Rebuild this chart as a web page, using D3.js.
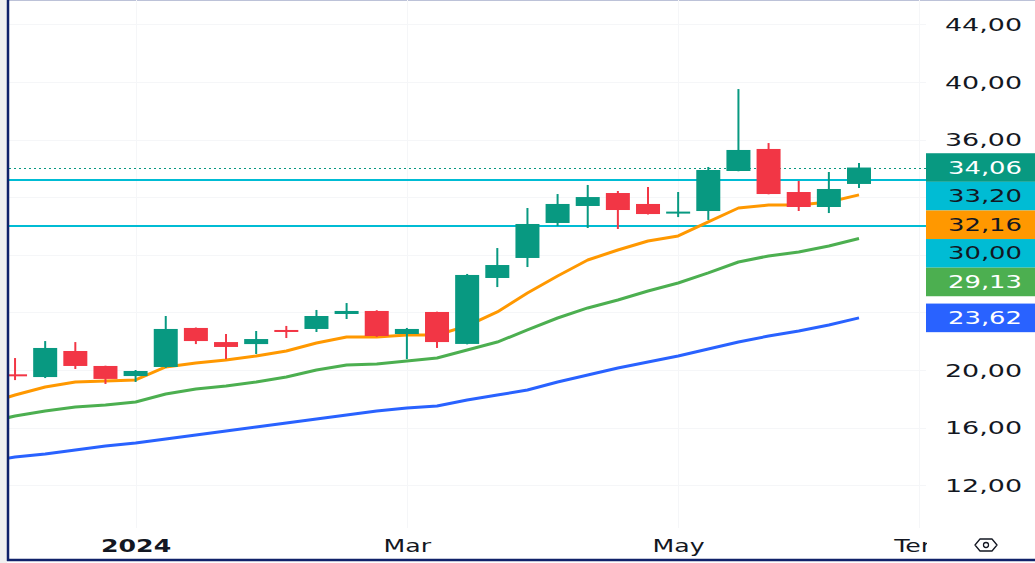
<!DOCTYPE html>
<html>
  <meta charset="utf-8">
  <head>
    <title>Weekly candles</title>
  </head>
  <style>
    body { margin: 0; background: #fff; }
    svg { display: block; font-family: "DejaVu Sans", sans-serif; }
    .grid line { stroke: #f5f6f8; stroke-width: 1; }
    .axis text { fill: #131722; font-family: "DejaVu Sans", sans-serif; }
  </style>
  <script src="https://d3js.org/d3.v7.min.js"></script>
  <body>
    <svg width="1035" height="563"></svg>

    <script>
      // weekly bars, first week only feeds the averages (off the left edge)
      var weeks = ["2023-11-27", "2023-12-04", "2023-12-11", "2023-12-18", "2023-12-25",
                   "2024-01-01", "2024-01-08", "2024-01-15", "2024-01-22", "2024-01-29",
                   "2024-02-05", "2024-02-12", "2024-02-19", "2024-02-26", "2024-03-04",
                   "2024-03-11", "2024-03-18", "2024-03-25", "2024-04-01", "2024-04-08",
                   "2024-04-15", "2024-04-22", "2024-04-29", "2024-05-06", "2024-05-13",
                   "2024-05-20", "2024-05-27", "2024-06-03", "2024-06-10", "2024-06-17"];

      var opens  = [null, 19.70, 19.51, 21.32, 20.28, 19.58, 20.21, 22.92, 21.94, 21.80, 22.78,
                    22.85, 23.89, 24.10, 22.50, 24.03, 21.81, 26.39, 27.78, 30.21, 31.39,
                    32.29, 31.53, 30.90, 31.04, 33.82, 35.35, 32.36, 31.32, 32.92];
      var highs  = [null, 20.83, 22.01, 21.94, 20.30, 20.00, 23.75, 22.95, 22.50, 22.71, 23.06,
                    24.17, 24.65, 24.15, 22.92, 24.05, 26.67, 28.47, 31.25, 32.22, 32.85,
                    32.43, 32.71, 32.36, 34.10, 39.51, 35.76, 33.13, 33.75, 34.38];
      var lows   = [null, 19.30, 19.44, 20.07, 19.03, 19.17, 20.15, 21.80, 20.76, 21.11, 22.22,
                    22.64, 23.54, 22.30, 20.76, 21.53, 21.78, 25.76, 27.15, 30.00, 29.86,
                    29.79, 30.80, 30.62, 30.42, 33.80, 32.20, 31.04, 30.90, 32.64];
      var closes = [null, 19.60, 21.53, 20.28, 19.38, 19.93, 22.85, 22.01, 21.60, 22.15, 22.64,
                    23.75, 24.10, 22.36, 22.85, 21.94, 26.60, 27.29, 30.14, 31.53, 32.01,
                    31.11, 30.83, 31.00, 33.89, 35.28, 32.22, 31.32, 32.57, 34.06];

      var maOrange = [17.64, 18.26, 18.82, 19.17, 19.24, 19.31, 20.21, 20.49, 20.69, 20.97,
                      21.32, 21.87, 22.29, 22.30, 22.43, 22.43, 23.06, 24.03, 25.35, 26.53,
                      27.64, 28.33, 28.96, 29.31, 30.28, 31.25, 31.46, 31.46, 31.67, 32.16];
      var maGreen  = [16.32, 16.81, 17.15, 17.43, 17.57, 17.78, 18.33, 18.68, 18.89, 19.17,
                      19.51, 20.00, 20.35, 20.42, 20.63, 20.83, 21.39, 21.94, 22.78, 23.61,
                      24.31, 24.86, 25.49, 26.04, 26.74, 27.50, 27.92, 28.19, 28.61, 29.13];
      var maBlue   = [13.61, 13.96, 14.17, 14.44, 14.72, 14.93, 15.21, 15.49, 15.76, 16.04,
                      16.32, 16.60, 16.88, 17.15, 17.36, 17.50, 17.92, 18.26, 18.61, 19.17,
                      19.65, 20.14, 20.56, 20.97, 21.46, 21.94, 22.36, 22.71, 23.13, 23.62];

      var levels = [33.20, 30.00];

      var priceTicks = [12, 16, 20, 24, 28, 32, 36, 40, 44];
      var timeTicks  = ["2024-01-01", "2024-03-04", "2024-05-06", "2024-07-01"];
      var timeLabels = ["2024", "Mar", "May", "Tem"];

      var up = "#089981", down = "#f23645", levelColor = "#00bcd4";

      var svg = d3.select("svg"),
          width = +svg.attr("width"),
          height = +svg.attr("height");

      var plotLeft = 9, plotRight = 926, plotBottom = 558;

      var parse = d3.timeParse("%Y-%m-%d");
      var dates = weeks.map(parse);

      var x = d3.scaleTime()
          .domain([dates[0], dates[dates.length - 1]])
          .range([-15.1, 859]);

      var y = d3.scaleLinear()
          .domain([10, 46])
          .range([514, -4.4]);

      var tr = d3.formatLocale({decimal: ",", thousands: ".", grouping: [3], currency: ["", ""]});
      var fmt = tr.format(".2f");

      // page frame
      svg.append("rect").attr("x", 0).attr("y", 0).attr("width", 7).attr("height", height).attr("fill", "#f0f0f0");
      svg.append("line").attr("x1", 7).attr("x2", width).attr("y1", 0.5).attr("y2", 0.5)
          .attr("stroke", "#bcc2d8").attr("stroke-width", 1);

      svg.append("clipPath").attr("id", "plot")
        .append("rect").attr("x", plotLeft).attr("y", 0)
          .attr("width", plotRight - plotLeft).attr("height", plotBottom);

      // faint grid
      var grid = svg.append("g").attr("class", "grid").attr("clip-path", "url(#plot)");
      grid.selectAll(".h").data(priceTicks).enter().append("line")
          .attr("x1", plotLeft).attr("x2", plotRight)
          .attr("y1", function(d) { return Math.round(y(d)) + 0.5; })
          .attr("y2", function(d) { return Math.round(y(d)) + 0.5; });
      grid.selectAll(".v").data(timeTicks).enter().append("line")
          .attr("y1", 0).attr("y2", plotBottom - 30)
          .attr("x1", function(d) { return Math.round(x(parse(d))) + 0.5; })
          .attr("x2", function(d) { return Math.round(x(parse(d))) + 0.5; });

      var plot = svg.append("g").attr("clip-path", "url(#plot)");

      // last price dotted line
      var last = closes.length - 1;
      plot.append("line")
          .attr("x1", plotLeft).attr("x2", plotRight)
          .attr("y1", Math.round(y(closes[last])) + 0.5).attr("y2", Math.round(y(closes[last])) + 0.5)
          .attr("stroke", up).attr("stroke-width", 1).attr("stroke-dasharray", "2,3");

      // horizontal levels
      plot.selectAll(".level").data(levels).enter().append("line")
          .attr("x1", plotLeft).attr("x2", plotRight)
          .attr("y1", function(d) { return y(d); })
          .attr("y2", function(d) { return y(d); })
          .attr("stroke", levelColor).attr("stroke-width", 2);

      // moving averages
      var line = d3.line()
          .x(function(d, i) { return x(dates[i]); })
          .y(function(d) { return y(d); });

      [[maBlue, "#2962ff"], [maGreen, "#4caf50"], [maOrange, "#ff9800"]].forEach(function(s) {
        plot.append("path")
            .attr("d", line(s[0]))
            .attr("fill", "none")
            .attr("stroke", s[1])
            .attr("stroke-width", 3)
            .attr("stroke-linejoin", "round");
      });

      // candles
      var idx = d3.range(closes.length).filter(function(i) { return closes[i] != null; });
      var bodyW = 24;
      var candle = plot.selectAll(".candle").data(idx).enter().append("g");
      candle.append("line")
          .attr("x1", function(i) { return x(dates[i]); })
          .attr("x2", function(i) { return x(dates[i]); })
          .attr("y1", function(i) { return y(highs[i]); })
          .attr("y2", function(i) { return y(lows[i]); })
          .attr("stroke", function(i) { return closes[i] >= opens[i] ? up : down; })
          .attr("stroke-width", 2);
      candle.append("rect")
          .attr("x", function(i) { return x(dates[i]) - bodyW / 2; })
          .attr("width", bodyW)
          .attr("y", function(i) { return y(Math.max(opens[i], closes[i])); })
          .attr("height", function(i) { return Math.max(2, Math.abs(y(opens[i]) - y(closes[i]))); })
          .attr("fill", function(i) { return closes[i] >= opens[i] ? up : down; });

      // price markers on the scale, stacked so they do not overlap
      var markers = [
        {v: closes[last], fill: up, text: "#fff"},
        {v: levels[0], fill: levelColor, text: "#131722"},
        {v: maOrange[maOrange.length - 1], fill: "#ff9800", text: "#131722"},
        {v: levels[1], fill: levelColor, text: "#131722"},
        {v: maGreen[maGreen.length - 1], fill: "#4caf50", text: "#fff"},
        {v: maBlue[maBlue.length - 1], fill: "#2962ff", text: "#fff"}
      ];
      markers.sort(function(a, b) { return b.v - a.v; });
      var boxH = 28.6, prev = -Infinity;
      markers.forEach(function(m) {
        m.cy = Math.max(y(m.v), prev + boxH);
        prev = m.cy;
      });

      // price axis: labels covered by a marker are dropped, as the scale does
      function covered(v) {
        var ty = y(v);
        return markers.some(function(m) { return Math.abs(ty - m.cy) < boxH / 2 + 8; });
      }
      var yAxis = svg.append("g").attr("class", "axis")
          .attr("transform", "translate(1022,0)")
          .call(d3.axisRight(y).tickValues(priceTicks.filter(function(v) { return !covered(v); }))
            .tickSize(0).tickFormat(fmt));
      yAxis.select(".domain").remove();
      yAxis.selectAll("text")
          .attr("x", 0).attr("dy", "0.36em")
          .attr("text-anchor", "end")
          .attr("font-size", 17)
          .attr("textLength", 77)
          .attr("lengthAdjust", "spacingAndGlyphs");

      var mk = svg.append("g").selectAll("g").data(markers).enter().append("g");
      mk.append("rect")
          .attr("x", plotRight).attr("width", width - plotRight)
          .attr("y", function(d) { return d.cy - boxH / 2; })
          .attr("height", boxH)
          .attr("fill", function(d) { return d.fill; });
      mk.append("text")
          .attr("x", 1022)
          .attr("y", function(d) { return d.cy; })
          .attr("dy", "0.36em")
          .attr("text-anchor", "end")
          .attr("font-size", 17)
          .attr("fill", function(d) { return d.text; })
          .attr("textLength", 74)
          .attr("lengthAdjust", "spacingAndGlyphs")
          .text(function(d) { return fmt(d.v); });

      // time axis (clip in the axis' own coordinates)
      svg.append("clipPath").attr("id", "timeclip")
        .append("rect").attr("x", plotLeft).attr("y", -30).attr("width", 918).attr("height", 40);
      var xAxis = svg.append("g").attr("class", "axis")
          .attr("clip-path", "url(#timeclip)")
          .attr("transform", "translate(0,552)")
          .call(d3.axisBottom(x).tickValues(timeTicks.map(parse)).tickSize(0)
            .tickFormat(function(d, i) { return timeLabels[i]; }));
      xAxis.select(".domain").remove();
      xAxis.selectAll("text")
          .attr("y", 0).attr("dy", 0)
          .attr("font-size", 18)
          .attr("font-weight", function(d, i) { return i === 0 ? "bold" : "normal"; })
          .each(function() {
            var w = this.getComputedTextLength();
            d3.select(this).attr("textLength", w * 1.4).attr("lengthAdjust", "spacingAndGlyphs");
          });

      // eye icon
      var eye = svg.append("g").attr("transform", "translate(986,545)");
      eye.append("path")
          .attr("d", "M-11,0 L-6,-6 L6,-6 L11,0 L6,6 L-6,6 Z")
          .attr("fill", "none").attr("stroke", "#131722").attr("stroke-width", 1.3)
          .attr("stroke-linejoin", "round");
      eye.append("circle").attr("r", 2.5)
          .attr("fill", "none").attr("stroke", "#131722").attr("stroke-width", 1.3);

      // frame lines
      svg.append("line").attr("x1", 8).attr("x2", 8).attr("y1", 0).attr("y2", 561)
          .attr("stroke", "#10226a").attr("stroke-width", 2.5);
      svg.append("line").attr("x1", 7).attr("x2", width).attr("y1", 560).attr("y2", 560)
          .attr("stroke", "#10226a").attr("stroke-width", 2.5);
    </script>
  </body>
</html>
